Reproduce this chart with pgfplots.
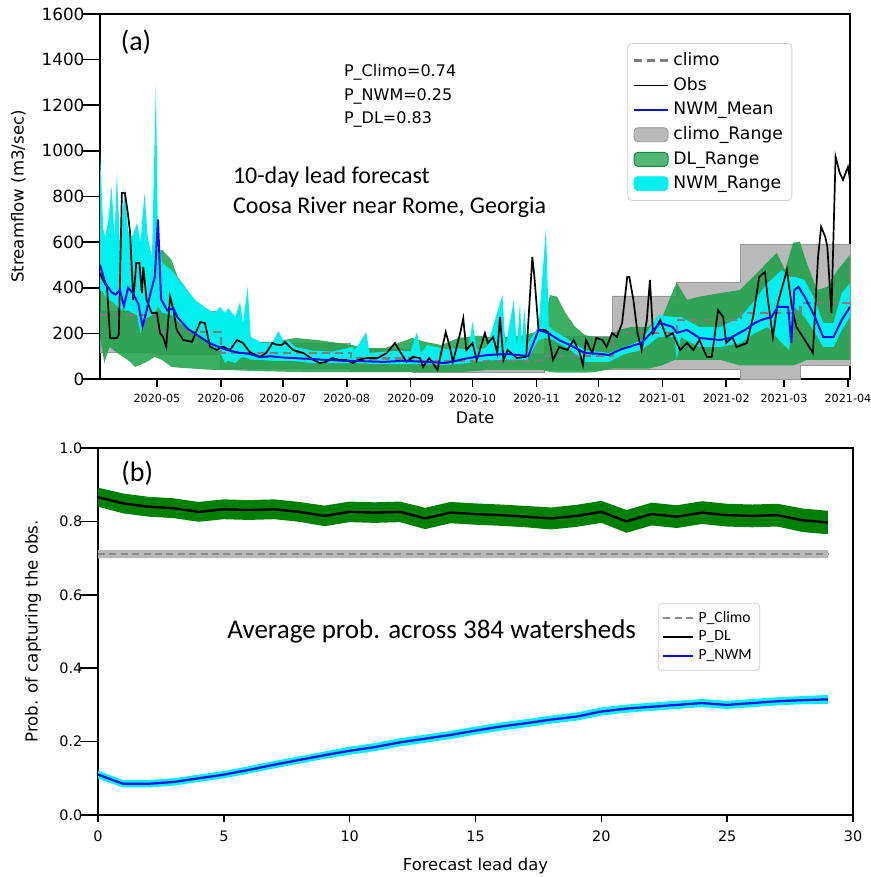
\documentclass[border=0pt]{standalone}
\usepackage{pgfplots}
\pgfplotsset{compat=1.18}
\usepackage{pgfplotstable}
\usepgfplotslibrary{fillbetween}
\usepackage{fontspec}
\setmainfont{DejaVu Sans}
\newfontfamily\calfont{Carlito}

\definecolor{dlgreen}{RGB}{25,160,70}
\definecolor{nwmcyan}{RGB}{0,240,240}
\definecolor{climogray}{RGB}{185,185,185}
\definecolor{climoedge}{RGB}{150,150,150}
\definecolor{climodash}{RGB}{125,125,125}
\definecolor{nwmblue}{RGB}{15,15,230}
\definecolor{pgreen}{RGB}{0,128,0}

\pgfplotstableread{
d v
2.4 465
4 430
5.8 404
7.3 180
9 178
10.6 180
11.5 193
13 815
14.5 815
16 720
17 640
18.5 346
20 509
21.5 509
22.7 377
23.4 491
25 346
27.5 289
30 289
31.5 201
33 184
34.5 142
36.4 361
38 302
39.6 215
42.8 171
47 163
49.4 215
51 250
53.3 245
55.7 142
59 127
62 142
65.4 127
68.8 171
71.7 158
75 118
80 97
83 114
86 158
88 150
90.6 149
92 162
96 127
101 114
106 83
109 70
112 75
115 92
118 85
122 83
125 70
128 85
132 92
137 92
141.5 114
145.4 158
148 118
151 75
154 97
157.5 92
159 53
162 92
166 40
170 206
172 140
173.5 75
177 201
178.5 266
180 127
183 158
185 83
186.6 127
189 201
190.5 158
193 184
195 114
196.3 272
198 83
200 127
204.5 92
209 97
212 535
213 447
215 215
218 215
219.6 206
222 83
225 140
229 127
232 171
235 114
236.5 61
238 171
241 114
243 180
246 171
248 140
250.6 201
253 184
255.5 245
258 447
259 447
261 346
263 201
265 127
267.5 259
269 434
270.5 201
274 259
277 184
280 201
283.6 127
287 158
290 127
293 171
296.6 97
299 97
302 302
304.5 272
306 158
309 184
311 140
316 158
319 272
322 448
324.8 469
326 361
328.6 184
331 333
335.4 478
337.8 316
340 228
345 158
348 114
350.5 535
352 667
354 623
355 580
357 289
359 974
361 904
362.6 873
365 930
366 873
}\obs

\pgfplotstableread{
d v
2.4 500
5 420
8 380
10 370
12 390
14 320
16 400
18 380
21 330
23 230
25 300
27 380
29 450
30.5 700
32 350
35 300
38 310
40 270
45 220
50 190
55 160
60 140
65 125
70 115
75 110
80 95
85 100
90 95
100 90
110 85
120 80
130 78
140 75
150 80
160 75
170 70
180 90
190 105
200 110
210 100
215 215
220 200
225 170
230 150
237.5 114
245 110
249 105
255 130
265 158
274 246
280 228
282 202
287 215
293 180
303 171
308 180
315 215
320 246
323 259
328 272
331 316
336 316
337.5 158
339 390
341 404
344 361
349 272
353 184
358 184
362 259
366 316
}\nwmmean

\pgfplotstableread{
d lo hi
2.4 390 991
4 380 655
5 360 623
6.5 350 700
8 340 844
9.5 330 623
10.6 320 905
12 310 597
14.5 300 840
16 300 650
18 290 623
20.4 280 684
22 200 600
24 260 816
25.5 270 623
27.6 280 535
29.5 300 1298
30.5 320 623
32.5 290 509
37 280 478
42 240 421
48.5 202 347
53 170 316
58 140 289
60.6 120 316
63 70 289
64.5 80 311
68 70 272
70.3 90 338
71.7 97 246
74 90 404
75.5 85 185
81 83 158
86 80 160
89 80 210
92 80 150
93.5 80 171
97 78 140
105 70 125
115 70 120
124.5 70 140
126 70 127
131.5 68 206
133 66 114
140 66 120
150 65 125
153 65 120
156 65 206
158 65 114
161 64 149
170 62 130
175 65 135
181 70 127
183 75 250
185 75 127
190 80 140
197.5 85 368
199 85 140
203 85 347
204.5 85 140
206 85 333
207 85 140
208 85 316
209.5 85 150
215 170 230
218.6 180 662
220 175 230
222 171 215
230 130 170
237.5 75 127
249 75 114
257 110 140
265 127 171
273 184 280
281 184 272
282 84 272
284 184 272
293 140 228
303 140 228
313 158 272
320 202 347
326 228 421
333 158 478
336.5 127 448
339 316 448
344 272 434
349 202 347
353 140 246
358 140 246
362 215 377
366 272 421
}\nwmrange

\pgfplotstableread{
d lo hi
2.4 185 641
4.5 70 580
7 140 600
10 120 610
13 100 600
16 83 560
19.4 53 540
24 70 520
27 85 540
29 97 550
32.5 83 567
37 53 523
40 50 448
43.6 48 405
48.5 45 333
53 42 290
58 40 246
63 40 185
68 38 171
77.5 35 163
87 33 163
97 31 180
108 30 171
124.5 30 149
132 30 136
140.6 30 136
153.7 30 180
160 30 163
168 30 149
176 30 180
185.6 35 190
190.5 40 184
200 40 184
208.4 40 193
216.7 40 215
220.5 30 368
224 28 361
228 28 290
232.7 28 229
237.5 28 193
242 30 184
250.6 45 184
253.5 45 215
260 45 228
268 45 228
275 60 272
281 84 404
282 84 421
287 84 347
293 84 361
303 84 377
312.6 60 390
321 60 465
327 60 522
330.5 60 553
334.5 60 478
338.4 60 597
341.7 70 602
345 84 509
350 84 390
355 84 404
360 84 478
366 84 544
}\dlrange

\pgfplotstableread{
x m lo hi
0 0.866 0.840 0.892
1 0.849 0.822 0.876
2 0.840 0.813 0.867
3 0.836 0.809 0.863
4 0.826 0.799 0.853
5 0.833 0.806 0.860
6 0.831 0.804 0.858
7 0.833 0.806 0.860
8 0.826 0.799 0.853
9 0.815 0.787 0.843
10 0.826 0.798 0.854
11 0.824 0.796 0.852
12 0.826 0.798 0.854
13 0.808 0.779 0.837
14 0.824 0.795 0.853
15 0.820 0.791 0.849
16 0.817 0.788 0.846
17 0.813 0.784 0.842
18 0.808 0.778 0.838
19 0.815 0.785 0.845
20 0.826 0.796 0.856
21 0.800 0.769 0.831
22 0.820 0.789 0.851
23 0.813 0.782 0.844
24 0.824 0.793 0.855
25 0.817 0.786 0.848
26 0.815 0.784 0.846
27 0.817 0.786 0.848
28 0.803 0.771 0.835
29 0.797 0.765 0.829
}\pdl

\pgfplotstableread{
x m lo hi
0 0.110 0.099 0.121
1 0.085 0.075 0.095
2 0.085 0.075 0.095
3 0.090 0.080 0.100
4 0.100 0.090 0.110
5 0.110 0.100 0.120
6 0.123 0.113 0.133
7 0.137 0.127 0.147
8 0.150 0.140 0.160
9 0.163 0.153 0.173
10 0.175 0.164 0.186
11 0.185 0.174 0.196
12 0.198 0.187 0.209
13 0.208 0.197 0.219
14 0.218 0.207 0.229
15 0.230 0.219 0.241
16 0.241 0.230 0.252
17 0.250 0.239 0.261
18 0.260 0.249 0.271
19 0.268 0.257 0.279
20 0.282 0.271 0.293
21 0.290 0.279 0.301
22 0.295 0.284 0.306
23 0.300 0.289 0.311
24 0.305 0.294 0.316
25 0.300 0.289 0.311
26 0.305 0.294 0.316
27 0.310 0.299 0.321
28 0.313 0.302 0.324
29 0.315 0.303 0.327
}\pnwm

\begin{document}
\begin{tikzpicture}

% ---------------- Panel (a) ----------------
\begin{axis}[
  scale only axis, width=375pt, height=182.5pt,
  at={(50pt,-189.5pt)}, anchor=south west,
  xmin=2.4, xmax=366, ymin=0, ymax=1600,
  xtick={30,61,91,122,153,183,214,244,275,306,334,365},
  xticklabels={2020-05,2020-06,2020-07,2020-08,2020-09,2020-10,2020-11,2020-12,2021-01,2021-02,2021-03,2021-04},
  ytick={0,200,...,1600},
  tick align=outside, xtick pos=left, ytick pos=left,
  axis line style={line width=0.8pt},
  every tick/.style={black, line width=0.8pt},
  ytick style={/pgfplots/major tick length=8.5pt},
  xtick style={/pgfplots/major tick length=4pt},
  /pgf/number format/assume math mode=true,
  /pgf/number format/1000 sep={},
  xticklabel style={font=\fontsize{5.6}{6.5}\selectfont},
  yticklabel style={font=\fontsize{8.4}{10}\selectfont},
  xlabel={Date}, ylabel={Streamflow (m3/sec)},
  xlabel style={font=\fontsize{8}{9.5}\selectfont, at={(axis description cs:0.5,-0.107)}, anchor=center},
  ylabel style={font=\fontsize{8.3}{9.5}\selectfont, at={(axis description cs:-0.1087,0.5)}, anchor=center},
  legend style={at={(0.923,0.92)}, anchor=north east, draw=black!18, rounded corners=2pt,
     fill=white, font=\fontsize{8.6}{10}\selectfont, row sep=0.4pt, inner sep=2.5pt},
  legend cell align=left,
]
% climo range (step polygon)
\addplot[fill=climogray, draw=climoedge, line width=0.4pt, forget plot, on layer=pre main] coordinates {
 (2.4,295) (30,295) (61,295) (61,158) (124,158) (124,130) (154,130) (154,110) (218,110)
 (218,185) (251,185) (251,364) (282,364) (282,425) (313,425) (313,588) (342,588) (366,588)
 (366,61) (342,61) (342,0) (313,0) (313,43) (282,43) (251,43) (251,40) (218,40) (218,30)
 (154,30) (154,35) (124,35) (124,45) (61,45) (61,110) (30,110) (30,118) (2.4,118) (2.4,295)};
% DL range
\addplot[name path=dlhi, draw=none, forget plot] table[x=d, y=hi] {\dlrange};
\addplot[name path=dllo, draw=none, forget plot] table[x=d, y=lo] {\dlrange};
\addplot[fill=dlgreen, fill opacity=0.85, draw=none, forget plot, on layer=pre main] fill between[of=dlhi and dllo];
% NWM range
\addplot[name path=nwhi, draw=none, forget plot] table[x=d, y=hi] {\nwmrange};
\addplot[name path=nwlo, draw=none, forget plot] table[x=d, y=lo] {\nwmrange};
\addplot[fill=nwmcyan, draw=none, forget plot, on layer=pre main] fill between[of=nwhi and nwlo];
% climo mean
\addplot[climodash, line width=1.1pt, dash pattern=on 4pt off 2.5pt, forget plot] coordinates {
 (2.4,280) (30,280) (30,205) (61,205) (61,115) (124,115) (124,90) (154,90) (154,80) (218,80)
 (218,100) (251,100) (251,200) (282,200) (282,258) (313,258) (313,290) (342,290) (342,333) (366,333)};
% obs
\addplot[black, line width=0.85pt, forget plot] table[x=d, y=v] {\obs};
% NWM mean
\addplot[nwmblue, line width=1pt, forget plot] table[x=d, y=v] {\nwmmean};

\addlegendimage{climodash, line width=1.3pt, dash pattern=on 4pt off 2.5pt}
\addlegendentry{climo}
\addlegendimage{black, line width=0.9pt}
\addlegendentry{Obs}
\addlegendimage{nwmblue, line width=1pt}
\addlegendentry{NWM\_Mean}
\addlegendimage{legend image code/.code={\filldraw[fill=climogray, draw=climoedge, line width=0.4pt] (0pt,-3.5pt) rectangle (17pt,3.5pt);}}
\addlegendentry{climo\_Range}
\addlegendimage{legend image code/.code={\filldraw[fill=dlgreen!75, draw=dlgreen!85!black, line width=0.5pt] (0pt,-3.5pt) rectangle (17pt,3.5pt);}}
\addlegendentry{DL\_Range}
\addlegendimage{legend image code/.code={\fill[nwmcyan] (0pt,-3.5pt) rectangle (17pt,3.5pt);}}
\addlegendentry{NWM\_Range}

\node[font=\calfont\fontsize{14}{16}\selectfont, anchor=center] at (rel axis cs:0.048,0.923) {(a)};
\node[font=\fontsize{8}{9.5}\selectfont, anchor=west] at (rel axis cs:0.316,0.841) {P\_Climo=0.74};
\node[font=\fontsize{8}{9.5}\selectfont, anchor=west] at (rel axis cs:0.316,0.775) {P\_NWM=0.25};
\node[font=\fontsize{8}{9.5}\selectfont, anchor=west] at (rel axis cs:0.316,0.710) {P\_DL=0.83};
\node[font=\calfont\fontsize{12}{14}\selectfont, anchor=west] at (rel axis cs:0.168,0.553) {10-day lead forecast};
\node[font=\calfont\fontsize{12}{14}\selectfont, anchor=west] at (rel axis cs:0.168,0.471) {Coosa River near Rome, Georgia};
\end{axis}

% ---------------- Panel (b) ----------------
\begin{axis}[
  scale only axis, width=377.5pt, height=183.5pt,
  at={(49pt,-407.5pt)}, anchor=south west,
  xmin=0, xmax=30, ymin=0, ymax=1,
  xtick={0,5,...,30}, ytick={0,0.2,0.4,0.6,0.8,1.0},
  tick align=outside, xtick pos=left, ytick pos=left,
  axis line style={line width=0.8pt},
  every tick/.style={black, line width=0.8pt},
  ytick style={/pgfplots/major tick length=9pt},
  xtick style={/pgfplots/major tick length=3.5pt},
  /pgf/number format/assume math mode=true,
  yticklabel style={/pgf/number format/.cd, fixed, fixed zerofill, precision=1},
  ticklabel style={font=\fontsize{7.2}{8.5}\selectfont},
  xlabel={Forecast lead day}, ylabel={Prob. of capturing the obs.},
  xlabel style={font=\fontsize{8.2}{9.5}\selectfont, at={(axis description cs:0.5,-0.139)}, anchor=center},
  ylabel style={font=\fontsize{8.3}{9.5}\selectfont, at={(axis description cs:-0.086,0.5)}, anchor=center},
  legend style={at={(0.877,0.578)}, anchor=north east, draw=black!18, rounded corners=2pt,
     fill=white, font=\calfont\fontsize{7.8}{9}\selectfont, row sep=-1.2pt, inner sep=2pt},
  legend cell align=left,
]
% climo band
\addplot[fill=climogray, draw=none, forget plot, on layer=pre main] coordinates {(0,0.700) (29,0.700) (29,0.722) (0,0.722) (0,0.700)};
% DL band
\addplot[name path=pdlhi, draw=none, forget plot] table[x=x, y=hi] {\pdl};
\addplot[name path=pdllo, draw=none, forget plot] table[x=x, y=lo] {\pdl};
\addplot[fill=pgreen, draw=none, forget plot, on layer=pre main] fill between[of=pdlhi and pdllo];
% NWM band
\addplot[name path=pnhi, draw=none, forget plot] table[x=x, y=hi] {\pnwm};
\addplot[name path=pnlo, draw=none, forget plot] table[x=x, y=lo] {\pnwm};
\addplot[fill=nwmcyan, draw=none, forget plot, on layer=pre main] fill between[of=pnhi and pnlo];
% lines
\addplot[black!45, line width=1.1pt, dash pattern=on 3.5pt off 2.2pt, forget plot] coordinates {(0,0.711) (29,0.711)};
\addplot[black, line width=1.2pt, forget plot] table[x=x, y=m] {\pdl};
\addplot[nwmblue, line width=1.1pt, forget plot] table[x=x, y=m] {\pnwm};

\addlegendimage{legend image code/.code={\draw[black!45, line width=1.1pt, dash pattern=on 3.5pt off 2.2pt] (0pt,0pt) -- (15pt,0pt);}}
\addlegendentry{P\_Climo}
\addlegendimage{legend image code/.code={\draw[black, line width=1.2pt] (0pt,0pt) -- (15pt,0pt);}}
\addlegendentry{P\_DL}
\addlegendimage{legend image code/.code={\draw[nwmblue, line width=1.1pt] (0pt,0pt) -- (15pt,0pt);}}
\addlegendentry{P\_NWM}

\node[font=\calfont\fontsize{14}{16}\selectfont, anchor=center] at (rel axis cs:0.052,0.932) {(b)};
\node[font=\calfont\fontsize{13.5}{16}\selectfont, anchor=center] at (rel axis cs:0.442,0.499) {Average prob. across 384 watersheds};
\end{axis}

\pgfresetboundingbox
\path[use as bounding box] (0,0) rectangle (435.5pt,-438.5pt);
\end{tikzpicture}
\end{document}
